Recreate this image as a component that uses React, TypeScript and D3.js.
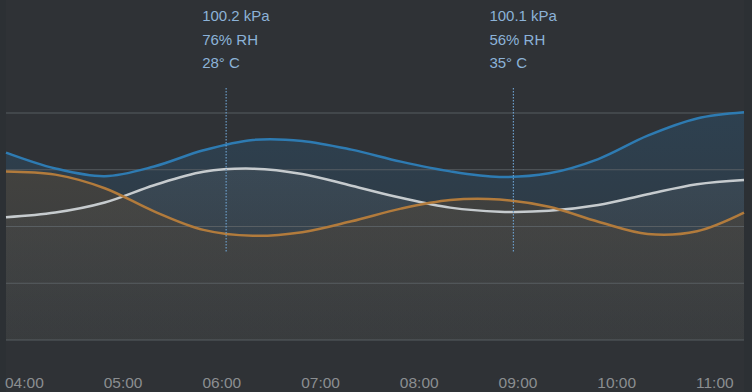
import React from "react";
import * as d3 from "d3";

// time in hours (04:00 .. ~11:28)
const times = [4, 4.5, 5, 5.5, 6, 6.5, 7, 7.5, 8, 8.5, 9, 9.5, 10, 10.5, 11, 11.476];
const pressure = [100.178, 100.129, 100.105, 100.135, 100.185, 100.217, 100.214, 100.187, 100.15, 100.12, 100.103, 100.114, 100.158, 100.23, 100.283, 100.302];
const humidity = [53.1, 55.3, 60.0, 68.1, 74.4, 75.9, 73.4, 67.9, 62.2, 57.6, 55.7, 56.1, 58.8, 63.9, 68.6, 70.6];
const temperature = [41.6, 40.9, 37.9, 32.8, 28.7, 27.4, 28.2, 30.6, 33.4, 35.3, 35.4, 33.8, 30.5, 27.8, 28.4, 32.5];

const tickHours = [4, 5, 6, 7, 8, 9, 10, 11];
const tickLabels = ["04:00", "05:00", "06:00", "07:00", "08:00", "09:00", "10:00", "11:00"];

const markerTimes = [6.23, 9.14];
const markerKpa = ["100.2", "100.1"];
const markerRH = ["76", "56"];
const markerC = ["28", "35"];

const W = 752;
const H = 392;
const left = 6;
const right = 744;
const top = 113;
const bottom = 340;
const gridCount = 5;

export default function App() {
  const x = d3.scaleLinear().domain([4, 11.476]).range([left, right]);
  const yP = d3.scaleLinear().domain([99.6, 100.3]).range([bottom, top]);
  const yH = d3.scaleLinear().domain([-4.5, 102]).range([bottom, top]);
  const yT = d3.scaleLinear().domain([4.4, 54.5]).range([bottom, top]);
  const yGrid = d3.scaleLinear().domain([0, gridCount - 1]).range([top, bottom]);

  const curve = d3.curveCatmullRom.alpha(0.5);

  const mk = (vals: number[], y: d3.ScaleLinear<number, number>) => {
    const data = times.map((t, i) => [t, vals[i]] as [number, number]);
    const line = d3
      .line<[number, number]>()
      .x((d) => x(d[0]))
      .y((d) => y(d[1]))
      .curve(curve);
    const area = d3
      .area<[number, number]>()
      .x((d) => x(d[0]))
      .y0(bottom)
      .y1((d) => y(d[1]))
      .curve(curve);
    return { line: line(data) || "", area: area(data) || "" };
  };

  const p = mk(pressure, yP);
  const h = mk(humidity, yH);
  const t = mk(temperature, yT);

  const font = "'Liberation Sans', Arial, sans-serif";

  return (
    <svg width={W} height={H} style={{ position: "absolute", left: 0, top: 0, display: "block" }}>
      <defs>
        <linearGradient id="gBlue" gradientUnits="userSpaceOnUse" x1="0" y1={top} x2="0" y2={bottom}>
          <stop offset="0" stopColor="#2a6a9a" stopOpacity={0.26} />
          <stop offset="1" stopColor="#2a6a9a" stopOpacity={0.06} />
        </linearGradient>
        <linearGradient id="gWhite" gradientUnits="userSpaceOnUse" x1="0" y1={top} x2="0" y2={bottom}>
          <stop offset="0" stopColor="#a8adb0" stopOpacity={0.12} />
          <stop offset="1" stopColor="#a8adb0" stopOpacity={0.03} />
        </linearGradient>
        <linearGradient id="gOrange" gradientUnits="userSpaceOnUse" x1="0" y1={top} x2="0" y2={bottom}>
          <stop offset="0" stopColor="#584632" stopOpacity={0.62} />
          <stop offset="1" stopColor="#48423a" stopOpacity={0.3} />
        </linearGradient>
      </defs>
      <rect x={0} y={0} width={W} height={H} fill="#2f3236" />
      <rect x={0} y={0} width={left} height={H} fill="#2c3034" />
      <rect x={right} y={0} width={W - right} height={H} fill="#2c3034" />

      <path d={p.area} fill="url(#gBlue)" />
      <path d={h.area} fill="url(#gWhite)" />
      <path d={t.area} fill="url(#gOrange)" />

      {d3.range(gridCount).map((i) => (
        <line key={i} x1={left} x2={right} y1={yGrid(i)} y2={yGrid(i)} stroke="#5c6266" strokeWidth={1.2} opacity={0.9} />
      ))}

      <path d={p.line} fill="none" stroke="#2e7bb2" strokeWidth={2.5} />
      <path d={h.line} fill="none" stroke="#c6cbce" strokeWidth={2.5} />
      <path d={t.line} fill="none" stroke="#b27b3c" strokeWidth={2.5} />

      {markerTimes.map((mt, i) => (
        <g key={i}>
          <line x1={x(mt)} x2={x(mt)} y1={88} y2={252} stroke="#6a9cc8" strokeWidth={1.2} strokeDasharray="1.5,1.5" />
          <g fill="#8cb2d8" fontFamily={font} fontSize={15}>
            <text x={x(mt) - 24} y={21}>{`${markerKpa[i]} kPa`}</text>
            <text x={x(mt) - 24} y={44.5}>{`${markerRH[i]}% RH`}</text>
            <text x={x(mt) - 24} y={67.5}>{`${markerC[i]}° C`}</text>
          </g>
        </g>
      ))}

      {tickHours.map((th, i) => (
        <text key={th} x={x(th) - 1} y={387.5} fill="#8b8e91" fontFamily={font} fontSize={15.5}>
          {tickLabels[i]}
        </text>
      ))}
    </svg>
  );
}
